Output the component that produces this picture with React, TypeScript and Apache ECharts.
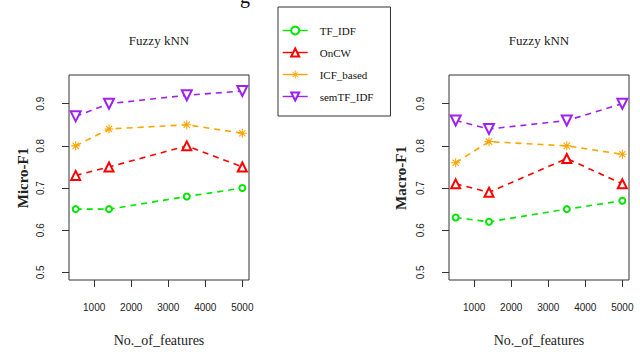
import React, { useEffect, useRef } from "react";
import * as echarts from "echarts";

const features = [500, 1400, 3500, 5000];
const seriesNames = ["TF_IDF", "OnCW", "ICF_based", "semTF_IDF"];
const colors = ["#00e600", "#ff0000", "#ffa500", "#a020f0"];

// Micro-F1 (left panel)
const microTF = [0.65, 0.65, 0.68, 0.70];
const microOnCW = [0.73, 0.75, 0.80, 0.75];
const microICF = [0.80, 0.84, 0.85, 0.83];
const microSem = [0.87, 0.90, 0.92, 0.93];

// Macro-F1 (right panel)
const macroTF = [0.63, 0.62, 0.65, 0.67];
const macroOnCW = [0.71, 0.69, 0.77, 0.71];
const macroICF = [0.76, 0.81, 0.80, 0.78];
const macroSem = [0.86, 0.84, 0.86, 0.90];

const xTicks = [1000, 2000, 3000, 4000, 5000];
const yTicks = [0.5, 0.6, 0.7, 0.8, 0.9];

const ASTERISK = "path://M5,0L5,10M0,5L10,5M1.5,1.5L8.5,8.5M1.5,8.5L8.5,1.5";

const symbols: { symbol: string; size: number; rotate: number }[] = [
  { symbol: "emptyCircle", size: 6, rotate: 0 },
  { symbol: "emptyTriangle", size: 9, rotate: 0 },
  { symbol: ASTERISK, size: 9, rotate: 0 },
  { symbol: "emptyTriangle", size: 10, rotate: 180 },
];

export default function App() {
  const ref = useRef<HTMLDivElement>(null);
  useEffect(() => {
    if (!ref.current) return;
    const chart = echarts.init(ref.current, undefined, { renderer: "svg" });
    const serif = "Liberation Serif";
    const sans = "Liberation Sans";
    const panels = [
      [microTF, microOnCW, microICF, microSem],
      [macroTF, macroOnCW, macroICF, macroSem],
    ];
    const grids = [
      { left: 69, top: 75, width: 180, height: 205 },
      { left: 449, top: 75, width: 180, height: 205 },
    ].map((g) => ({ ...g, show: true, borderColor: "#333", borderWidth: 1, backgroundColor: "transparent" }));

    const xAxes = [0, 1].map((i) => ({
      type: "value",
      gridIndex: i,
      min: 320,
      max: 5180,
      axisLine: { show: false },
      splitLine: { show: false },
      axisTick: { show: true, length: 7, customValues: xTicks, lineStyle: { color: "#333", width: 1 } },
      axisLabel: {
        customValues: xTicks,
        margin: 22,
        fontSize: 10,
        fontFamily: sans,
        color: "#222",
        formatter: (v: number) => String(v),
      },
    }));
    const yAxes = [0, 1].map((i) => ({
      type: "value",
      gridIndex: i,
      min: 0.482,
      max: 0.968,
      axisLine: { show: false },
      splitLine: { show: false },
      axisTick: { show: true, length: 7, customValues: yTicks, lineStyle: { color: "#333", width: 1 } },
      axisLabel: {
        customValues: yTicks,
        rotate: 90,
        margin: 24,
        fontSize: 10,
        fontFamily: sans,
        color: "#222",
        formatter: (v: number) => v.toFixed(1),
      },
    }));

    const series: any[] = [];
    panels.forEach((panel, pi) => {
      panel.forEach((vals, si) => {
        series.push({
          type: "line",
          name: seriesNames[si],
          xAxisIndex: pi,
          yAxisIndex: pi,
          data: features.map((f, k) => [f, vals[k]]),
          symbol: symbols[si].symbol,
          symbolSize: symbols[si].size,
          symbolRotate: symbols[si].rotate,
          lineStyle: { color: colors[si], width: 1.6, type: [6, 5] },
          itemStyle: { color: colors[si], borderColor: colors[si], borderWidth: si === 2 ? 1.1 : 1.4 },
          emphasis: { disabled: true },
          z: 2 + si,
        });
      });
    });

    chart.setOption({
      animation: false,
      backgroundColor: "#fff",
      grid: grids,
      xAxis: xAxes,
      yAxis: yAxes,
      series,
      legend: {
        orient: "vertical",
        left: 278,
        top: 7,
        padding: [18, 17, 14, 4],
        itemWidth: 25,
        itemHeight: 10,
        itemGap: 11,
        borderColor: "#333",
        borderWidth: 1,
        backgroundColor: "#fff",
        data: seriesNames,
        selectedMode: false,
        lineStyle: { type: "solid", width: 1.4 },
        itemStyle: { borderWidth: 1 },
        textStyle: { fontFamily: serif, fontSize: 11, color: "#111", padding: [0, 0, 0, 7] },
      },
      graphic: [
        { type: "text", left: 240, top: -14, style: { text: "g", font: `20px ${serif}`, fill: "#111" } },
        { type: "text", x: 159, y: 40, style: { text: "Fuzzy kNN", font: `13px ${serif}`, fill: "#222", textAlign: "center", textVerticalAlign: "middle" } },
        { type: "text", x: 539, y: 40, style: { text: "Fuzzy kNN", font: `13px ${serif}`, fill: "#222", textAlign: "center", textVerticalAlign: "middle" } },
        { type: "text", x: 159, y: 340, style: { text: "No._of_features", font: `14px ${serif}`, fill: "#222", textAlign: "center", textVerticalAlign: "middle" } },
        { type: "text", x: 539, y: 340, style: { text: "No._of_features", font: `14px ${serif}`, fill: "#222", textAlign: "center", textVerticalAlign: "middle" } },
        { type: "text", x: 23, y: 178, rotation: Math.PI / 2, style: { text: "Micro-F1", font: `bold 15px ${serif}`, fill: "#222", textAlign: "center", textVerticalAlign: "middle" } },
        { type: "text", x: 401, y: 178, rotation: Math.PI / 2, style: { text: "Macro-F1", font: `bold 15px ${serif}`, fill: "#222", textAlign: "center", textVerticalAlign: "middle" } },
      ],
    });
    return () => chart.dispose();
  }, []);
  return <div ref={ref} style={{ width: 640, height: 352, position: "absolute", left: 0, top: 0 }} />;
}
